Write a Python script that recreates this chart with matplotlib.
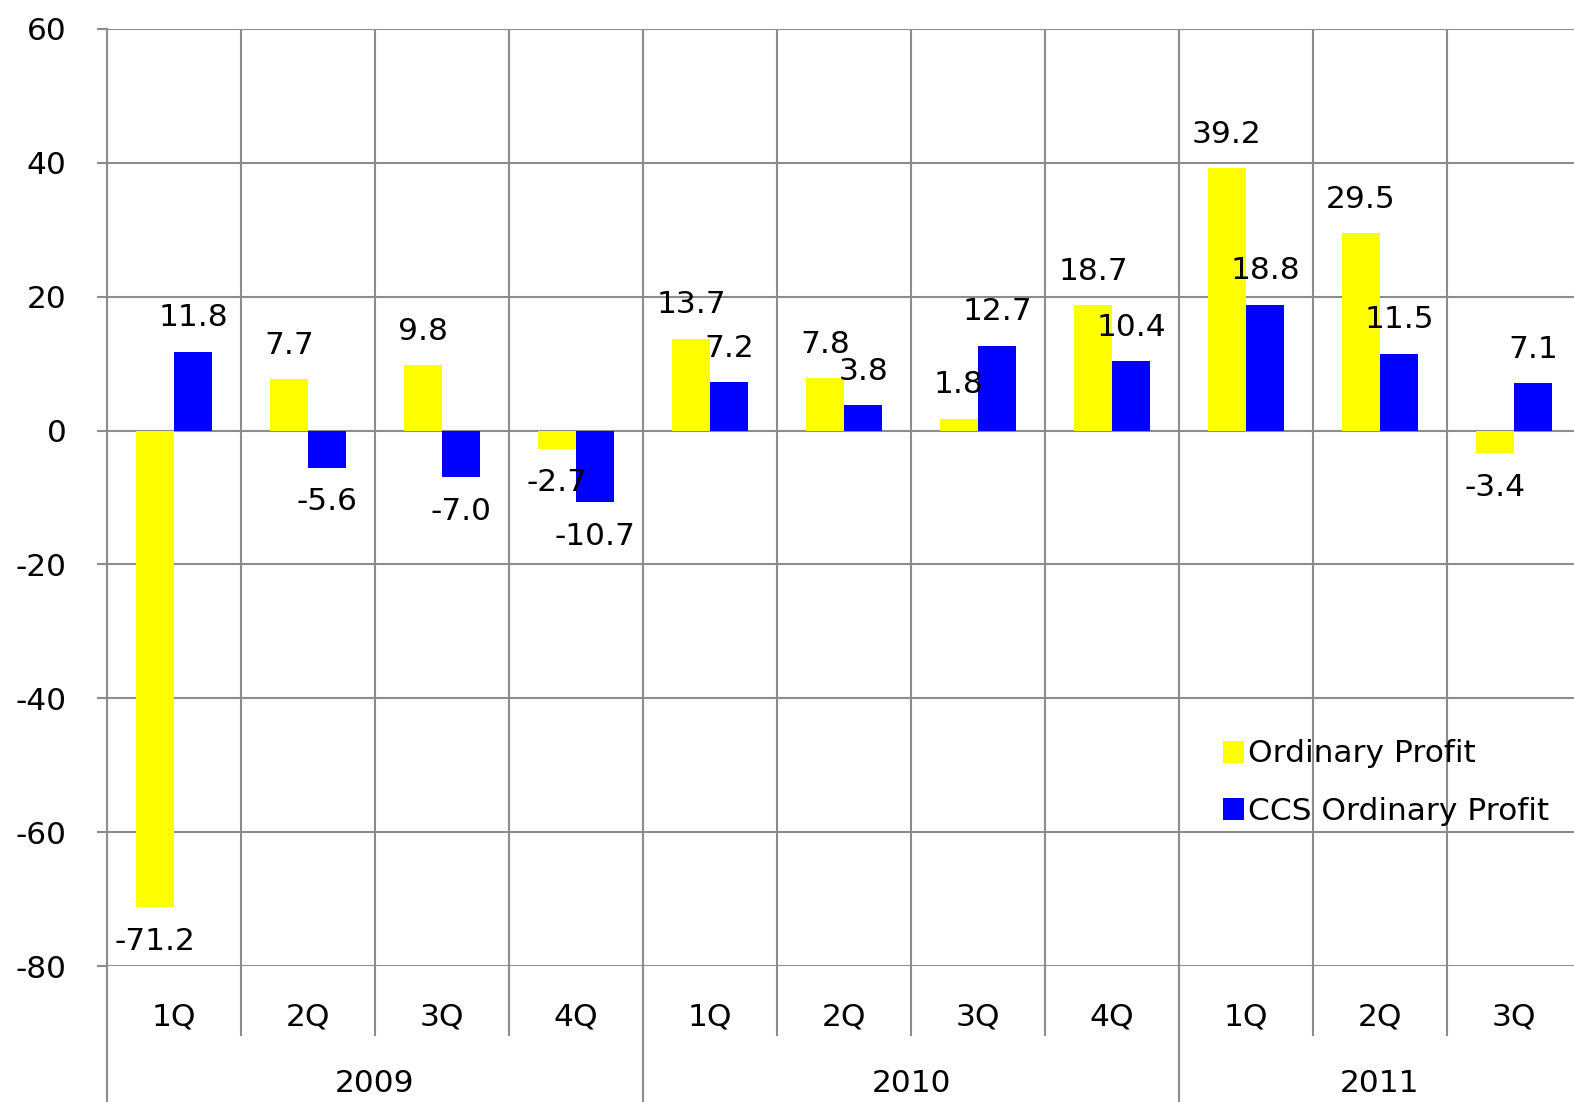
import numpy as np
import matplotlib
matplotlib.use("Agg")
import matplotlib.pyplot as plt
import matplotlib.transforms as mtransforms

# =========================
# data
# =========================
quarters = ["1Q", "2Q", "3Q", "4Q", "1Q", "2Q", "3Q", "4Q", "1Q", "2Q", "3Q"]
years = ["2009", "2010", "2011"]
year_spans = [(0, 4), (4, 8), (8, 11)]
ordinary_profit = [-71.2, 7.7, 9.8, -2.7, 13.7, 7.8, 1.8, 18.7, 39.2, 29.5, -3.4]
ccs_profit = [11.8, -5.6, -7.0, -10.7, 7.2, 3.8, 12.7, 10.4, 18.8, 11.5, 7.1]

GRID = "#8c8c8c"
FS = 22.5

plt.rcParams["font.family"] = ["DejaVu Sans"]
plt.rcParams["axes.unicode_minus"] = False

fig = plt.figure(figsize=(15.74, 11.02), dpi=100)
ax = fig.add_axes([107 / 1574, 1 - 966 / 1102, 1474 / 1574, (966 - 29) / 1102])

x = np.arange(len(quarters))
w = 0.285
b1 = ax.bar(x - w / 2, ordinary_profit, w, color="#ffff00", label="Ordinary Profit", zorder=3)
b2 = ax.bar(x + w / 2, ccs_profit, w, color="#0000ff", label="CCS Ordinary Profit", zorder=3)

for bars in (b1, b2):
    for rect in bars:
        v = rect.get_height()
        cx = rect.get_x() + rect.get_width() / 2
        ax.annotate(f"{v:.1f}", (cx, v), xytext=(0, 14 if v >= 0 else -14),
                    textcoords="offset points", ha="center",
                    va="bottom" if v >= 0 else "top", fontsize=FS, zorder=4)

ax.set_xlim(-0.5, len(quarters) - 0.5)
ax.set_ylim(-80, 60)
ax.set_yticks(np.arange(-80, 61, 20))
ax.tick_params(axis="y", direction="out", length=7.2, width=1.5, color=GRID,
               labelsize=FS, pad=22)

# category boundaries as gridlines
bounds = np.arange(len(quarters) + 1) - 0.5
ax.set_xticks(bounds, minor=True)
ax.set_xticks(x)
ax.set_xticklabels(quarters, fontsize=FS)
ax.tick_params(axis="x", which="both", length=0, pad=26)
ax.grid(True, axis="y", color=GRID, lw=1.5, zorder=0)
ax.grid(True, axis="x", which="minor", color=GRID, lw=1.5, zorder=0)

for s in ["top", "right", "bottom"]:
    ax.spines[s].set_visible(False)
ax.spines["left"].set_color(GRID)
ax.spines["left"].set_linewidth(1.5)

# separators below the axis
trans = mtransforms.blended_transform_factory(ax.transData, ax.transAxes)
ax_h = (966 - 29)
q_depth = -(1035 - 966) / ax_h
y_depth = -(1102 - 966) / ax_h - 0.01
year_bounds = [b[0] - 0.5 for b in year_spans] + [year_spans[-1][1] - 0.5]
for bx in bounds:
    depth = y_depth if bx in year_bounds else q_depth
    ax.plot([bx, bx], [0, depth], transform=trans, color=GRID, lw=1.5, clip_on=False)

for name, (a, b) in zip(years, year_spans):
    ax.text((a + b - 1) / 2, -(1083 - 966) / ax_h, name, transform=trans,
            ha="center", va="center", fontsize=FS)

leg = ax.legend(loc="upper left", bbox_to_anchor=((1210 - 107) / 1474, 1 - (727 - 29) / ax_h),
                frameon=False, fontsize=FS, handlelength=0.7, handleheight=0.7,
                handletextpad=0.1, labelspacing=0.9, borderaxespad=0)

fig.savefig("out.png", dpi=100)
